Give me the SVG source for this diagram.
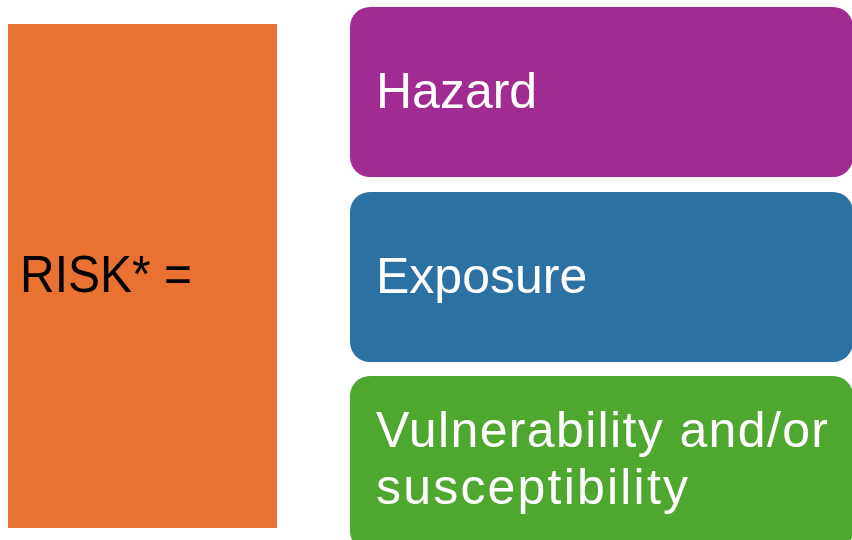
<svg xmlns="http://www.w3.org/2000/svg" width="852" height="540" viewBox="0 0 852 540">
<style>
.box{stroke:none}
.lbl{font-family:"Liberation Sans",Arial,sans-serif;font-size:50px;fill:#ffffff}
.risk{font-family:"Liberation Sans",Arial,sans-serif;font-size:51px;fill:#000000}
</style>
<rect width="852" height="540" fill="#ffffff"/>
<g id="risk">
<rect x="8" y="24" width="269" height="504" fill="#E97132"/>
<text class="risk" x="20" y="292" textLength="172" lengthAdjust="spacingAndGlyphs">RISK* =</text>
</g>
<g id="hazard">
<rect class="box" x="350" y="7" width="503" height="170" rx="20" ry="20" fill="#A02B93"/>
<text class="lbl" x="376" y="108">Hazard</text>
</g>
<g id="exposure">
<rect class="box" x="350" y="192" width="503" height="170" rx="20" ry="20" fill="#2C71A3"/>
<text class="lbl" x="376" y="293">Exposure</text>
</g>
<g id="vulnerability">
<rect class="box" x="350" y="376" width="503" height="175" rx="20" ry="20" fill="#4EA72E"/>
<text class="lbl" x="376" y="447" textLength="452" lengthAdjust="spacing">Vulnerability and/or</text>
<text class="lbl" x="376" y="504" textLength="312" lengthAdjust="spacing">susceptibility</text>
</g>
<g id="connectors"/>
</svg>
